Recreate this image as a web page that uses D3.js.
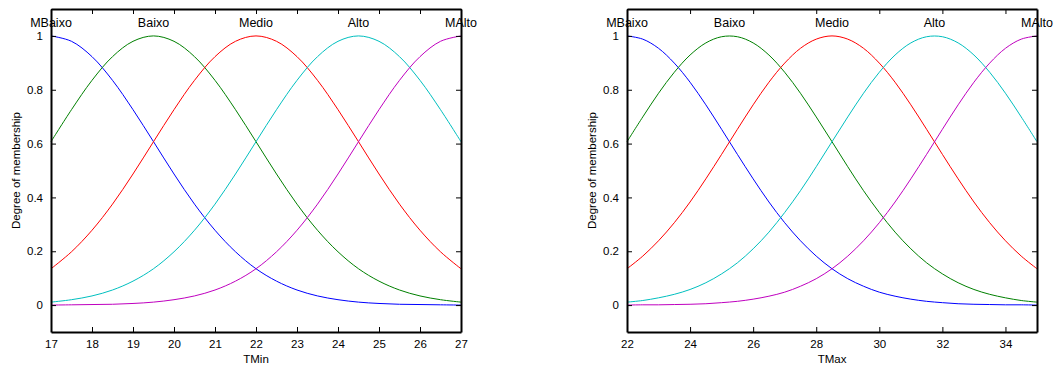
<!DOCTYPE html>
<html>
<head>
<meta charset="utf-8">
<script src="https://cdn.jsdelivr.net/npm/d3@7"></script>
<style>
  body { margin: 0; background: #fff; }
  text { font-family: "Liberation Sans", Arial, sans-serif; fill: #000; }
</style>
</head>
<body>
<script>
// membership function names (same for both inputs)
var mfNames = ["MBaixo", "Baixo", "Medio", "Alto", "MAlto"];
var mfColors = ["#0000ff", "#008000", "#ff0000", "#00bfbf", "#bf00bf"];

// TMin: sample points and degree of membership
var tminX = [17, 17.5, 18, 18.5, 19, 19.5, 20, 20.5, 21, 21.5, 22, 22.5, 23, 23.5, 24, 24.5, 25, 25.5, 26, 26.5, 27];
var tminCenters = [17, 19.5, 22, 24.5, 27];
var tminMBaixo = [1, 0.980, 0.923, 0.835, 0.726, 0.607, 0.487, 0.375, 0.278, 0.198, 0.135, 0.089, 0.056, 0.034, 0.020, 0.011, 0.006, 0.003, 0.002, 0.001, 0];
var tminBaixo = [0.607, 0.726, 0.835, 0.923, 0.980, 1, 0.980, 0.923, 0.835, 0.726, 0.607, 0.487, 0.375, 0.278, 0.198, 0.135, 0.089, 0.056, 0.034, 0.020, 0.011];
var tminMedio = [0.135, 0.198, 0.278, 0.375, 0.487, 0.607, 0.726, 0.835, 0.923, 0.980, 1, 0.980, 0.923, 0.835, 0.726, 0.607, 0.487, 0.375, 0.278, 0.198, 0.135];
var tminAlto = [0.011, 0.020, 0.034, 0.056, 0.089, 0.135, 0.198, 0.278, 0.375, 0.487, 0.607, 0.726, 0.835, 0.923, 0.980, 1, 0.980, 0.923, 0.835, 0.726, 0.607];
var tminMAlto = [0, 0.001, 0.002, 0.003, 0.006, 0.011, 0.020, 0.034, 0.056, 0.089, 0.135, 0.198, 0.278, 0.375, 0.487, 0.607, 0.726, 0.835, 0.923, 0.980, 1];
var tminTicks = [17, 18, 19, 20, 21, 22, 23, 24, 25, 26, 27];

// TMax
var tmaxX = [22, 22.5, 23, 23.5, 24, 24.5, 25, 25.5, 26, 26.5, 27, 27.5, 28, 28.5, 29, 29.5, 30, 30.5, 31, 31.5, 32, 32.5, 33, 33.5, 34, 34.5, 35];
var tmaxCenters = [22, 25.25, 28.5, 31.75, 35];
var tmaxMBaixo = [1, 0.988, 0.954, 0.899, 0.828, 0.744, 0.653, 0.560, 0.469, 0.383, 0.306, 0.239, 0.182, 0.135, 0.098, 0.070, 0.048, 0.033, 0.022, 0.014, 0.009, 0.005, 0.003, 0.002, 0.001, 0.001, 0];
var tmaxBaixo = [0.607, 0.699, 0.787, 0.865, 0.929, 0.974, 0.997, 0.997, 0.974, 0.929, 0.865, 0.787, 0.699, 0.607, 0.514, 0.425, 0.344, 0.271, 0.209, 0.157, 0.116, 0.083, 0.058, 0.040, 0.027, 0.017, 0.011];
var tmaxMedio = [0.135, 0.182, 0.239, 0.306, 0.383, 0.469, 0.560, 0.653, 0.744, 0.828, 0.899, 0.954, 0.988, 1, 0.988, 0.954, 0.899, 0.828, 0.744, 0.653, 0.560, 0.469, 0.383, 0.306, 0.239, 0.182, 0.135];
var tmaxAlto = [0.011, 0.017, 0.027, 0.040, 0.058, 0.083, 0.116, 0.157, 0.209, 0.271, 0.344, 0.425, 0.514, 0.607, 0.699, 0.787, 0.865, 0.929, 0.974, 0.997, 0.997, 0.974, 0.929, 0.865, 0.787, 0.699, 0.607];
var tmaxMAlto = [0, 0.001, 0.001, 0.002, 0.003, 0.005, 0.009, 0.014, 0.022, 0.033, 0.048, 0.070, 0.098, 0.135, 0.182, 0.239, 0.306, 0.383, 0.469, 0.560, 0.653, 0.744, 0.828, 0.899, 0.954, 0.988, 1];
var tmaxTicks = [22, 24, 26, 28, 30, 32, 34];

var yTicks = [0, 0.2, 0.4, 0.6, 0.8, 1];

var width = 1057, height = 370;

var svg = d3.select("body").append("svg")
    .attr("width", width)
    .attr("height", height);

drawPlot({left: 51, right: 461, top: 9, bottom: 332},
  tminX, [tminMBaixo, tminBaixo, tminMedio, tminAlto, tminMAlto],
  tminCenters, tminTicks, "TMin");

drawPlot({left: 627, right: 1037, top: 9, bottom: 332},
  tmaxX, [tmaxMBaixo, tmaxBaixo, tmaxMedio, tmaxAlto, tmaxMAlto],
  tmaxCenters, tmaxTicks, "TMax");

function drawPlot(box, xs, series, centers, xTicks, xName) {
  var x = d3.scaleLinear()
      .domain(d3.extent(xs))
      .range([box.left, box.right]);
  var y = d3.scaleLinear()
      .domain([-0.1, 1.1])
      .range([box.bottom, box.top]);

  var g = svg.append("g");

  //curves
  var line = d3.line()
      .x(function(d) { return x(d[0]); })
      .y(function(d) { return y(d[1]); })
      .curve(d3.curveCatmullRom);

  series.forEach(function(vals, k) {
    g.append("path")
      .datum(xs.map(function(v, i) { return [v, vals[i]]; }))
      .attr("fill", "none")
      .attr("stroke", mfColors[k])
      .attr("stroke-width", 1)
      .attr("d", line);
  });

  //mf labels
  g.selectAll(".mflabel")
    .data(mfNames)
    .enter()
    .append("text")
    .attr("x", function(d, i) { return x(centers[i]); })
    .attr("y", y(1) - 9)
    .attr("text-anchor", "middle")
    .style("font-size", "12.5px")
    .text(function(d) { return d; });

  //axes, ticks pointing inward like matlab
  var axBottom = d3.axisBottom(x).tickValues(xTicks).tickSizeInner(-5).tickSizeOuter(0).tickPadding(8).tickFormat(d3.format("d"));
  var axTop = d3.axisTop(x).tickValues(xTicks).tickSizeInner(-5).tickSizeOuter(0).tickFormat("");
  var axLeft = d3.axisLeft(y).tickValues(yTicks).tickSizeInner(-5).tickSizeOuter(0).tickPadding(8).tickFormat(d3.format("~g"));
  var axRight = d3.axisRight(y).tickValues(yTicks).tickSizeInner(-5).tickSizeOuter(0).tickFormat("");

  [[axBottom, "translate(0," + box.bottom + ")"],
   [axTop, "translate(0," + box.top + ")"],
   [axLeft, "translate(" + box.left + ",0)"],
   [axRight, "translate(" + box.right + ",0)"]].forEach(function(a) {
    var ag = g.append("g")
      .attr("transform", a[1])
      .call(a[0]);
    ag.select(".domain").attr("stroke", "#000").attr("stroke-width", 2);
    ag.selectAll(".tick line").attr("stroke", "#000");
    ag.selectAll("text")
      .style("font-family", "'Liberation Sans', Arial, sans-serif")
      .style("font-size", "11.5px")
      .attr("fill", "#000");
  });

  //axis titles
  g.append("text")
    .attr("x", (box.left + box.right) / 2)
    .attr("y", box.bottom + 31)
    .attr("text-anchor", "middle")
    .style("font-size", "11.5px")
    .text(xName);

  g.append("text")
    .attr("transform", "translate(" + (box.left - 31) + "," + ((box.top + box.bottom) / 2) + ") rotate(-90)")
    .attr("text-anchor", "middle")
    .style("font-size", "11.5px")
    .text("Degree of membership");
}
</script>
</body>
</html>
